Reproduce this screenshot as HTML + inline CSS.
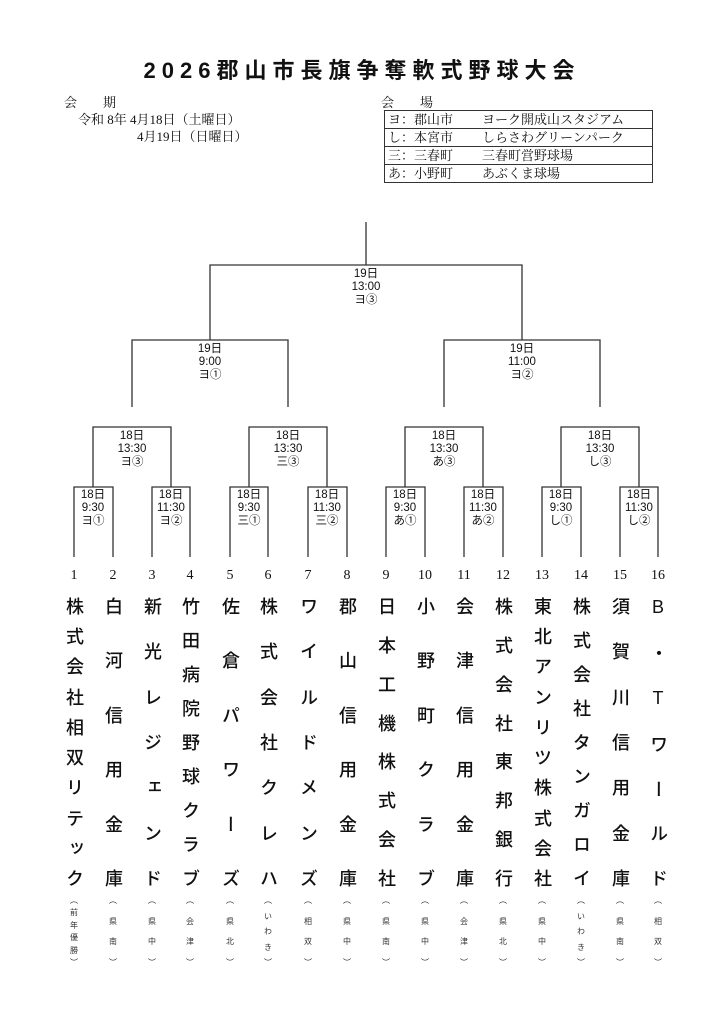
<!DOCTYPE html>
<html><head><meta charset="utf-8"><style>
body{margin:0;background:#fff;}
#p{position:relative;width:724px;height:1024px;overflow:hidden;background:#fff;color:#111;font-family:"Liberation Serif","Noto Serif CJK SC",serif;}
.a{position:absolute;}
.t{left:0;width:724px;top:53px;text-align:center;font-size:22px;font-weight:bold;letter-spacing:6px;font-family:"Liberation Sans","Noto Sans CJK JP",sans-serif;}
.s{font-size:13px;line-height:17px;}
table{border-collapse:collapse;font-size:13px;}
td{border-top:1px solid #333;border-bottom:1px solid #333;height:17px;padding:0 3px;line-height:16px;}
td.l{border-left:1px solid #333;}
td.rr{border-right:1px solid #333;}
.lb{font-family:"Liberation Sans","Noto Sans CJK JP",sans-serif;font-size:11.5px;line-height:13px;text-align:center;width:60px;margin-left:-30px;}
.n{font-size:14px;width:30px;margin-left:-15px;text-align:center;top:568px;}
.c{display:flex;flex-direction:column;justify-content:space-between;align-items:center;width:30px;margin-left:-15px;top:597px;height:290px;font-family:"Liberation Sans","Noto Sans CJK JP",sans-serif;font-size:18px;line-height:22px;font-weight:500;}
.c span,.r span{writing-mode:vertical-rl;text-orientation:upright;}
.r{display:flex;flex-direction:column;justify-content:space-between;align-items:center;width:20px;margin-left:-10px;top:896px;height:70px;font-family:"Liberation Sans","Noto Sans CJK JP",sans-serif;font-size:8px;line-height:9px;color:#333;}
</style></head><body><div id="p">
<div class="a t">2026郡山市長旗争奪軟式野球大会</div>
<div class="a s" style="left:64px;top:94px;">会&emsp;&emsp;期</div>
<div class="a s" style="left:78px;top:111px;">令和 8年 4月18日（土曜日）</div>
<div class="a s" style="left:137px;top:128px;">4月19日（日曜日）</div>
<div class="a s" style="left:381px;top:94px;">会&emsp;&emsp;場</div>
<table class="a" style="left:384px;top:110px;width:269px;">
<tr><td class="l" style="width:88px">ヨ：郡山市</td><td class="rr">ヨーク開成山スタジアム</td></tr>
<tr><td class="l">し：本宮市</td><td class="rr">しらさわグリーンパーク</td></tr>
<tr><td class="l">三：三春町</td><td class="rr">三春町営野球場</td></tr>
<tr><td class="l">あ：小野町</td><td class="rr">あぶくま球場</td></tr>
</table>
<svg class="a" style="left:0;top:0" width="724" height="1024" fill="none" stroke="#333" stroke-width="1.3">
<path d="M366 222V265M210 340V265H522V340"/>
<path d="M132 407V340H288V407M444 407V340H600V407"/>
<path d="M93 487V427H171V487M249 487V427H327V487M405 487V427H483V487M561 487V427H639V487"/>
<path d="M74 557V487H113V557M152 557V487H190V557M230 557V487H268V557M308 557V487H347V557M386 557V487H425V557M464 557V487H503V557M542 557V487H581V557M620 557V487H658V557"/>
</svg>
<div class="a lb" style="left:366px;top:268px;">19日<br>13:00<br>ヨ③</div>
<div class="a lb" style="left:210px;top:343px;">19日<br>9:00<br>ヨ①</div>
<div class="a lb" style="left:522px;top:343px;">19日<br>11:00<br>ヨ②</div>
<div class="a lb" style="left:132px;top:430px;">18日<br>13:30<br>ヨ③</div>
<div class="a lb" style="left:288px;top:430px;">18日<br>13:30<br>三③</div>
<div class="a lb" style="left:444px;top:430px;">18日<br>13:30<br>あ③</div>
<div class="a lb" style="left:600px;top:430px;">18日<br>13:30<br>し③</div>
<div class="a lb" style="left:93px;top:489px;">18日<br>9:30<br>ヨ①</div>
<div class="a lb" style="left:171px;top:489px;">18日<br>11:30<br>ヨ②</div>
<div class="a lb" style="left:249px;top:489px;">18日<br>9:30<br>三①</div>
<div class="a lb" style="left:327px;top:489px;">18日<br>11:30<br>三②</div>
<div class="a lb" style="left:405px;top:489px;">18日<br>9:30<br>あ①</div>
<div class="a lb" style="left:483px;top:489px;">18日<br>11:30<br>あ②</div>
<div class="a lb" style="left:561px;top:489px;">18日<br>9:30<br>し①</div>
<div class="a lb" style="left:639px;top:489px;">18日<br>11:30<br>し②</div>

<div class="a n" style="left:74px">1</div><div class="a n" style="left:113px">2</div><div class="a n" style="left:152px">3</div><div class="a n" style="left:190px">4</div><div class="a n" style="left:230px">5</div><div class="a n" style="left:268px">6</div><div class="a n" style="left:308px">7</div><div class="a n" style="left:347px">8</div><div class="a n" style="left:386px">9</div><div class="a n" style="left:425px">10</div><div class="a n" style="left:464px">11</div><div class="a n" style="left:503px">12</div><div class="a n" style="left:542px">13</div><div class="a n" style="left:581px">14</div><div class="a n" style="left:620px">15</div><div class="a n" style="left:658px">16</div>

<div class="a c" style="left:74px"><span>株</span><span>式</span><span>会</span><span>社</span><span>相</span><span>双</span><span>リ</span><span>テ</span><span>ッ</span><span>ク</span></div>
<div class="a c" style="left:113px"><span>白</span><span>河</span><span>信</span><span>用</span><span>金</span><span>庫</span></div>
<div class="a c" style="left:152px"><span>新</span><span>光</span><span>レ</span><span>ジ</span><span>ェ</span><span>ン</span><span>ド</span></div>
<div class="a c" style="left:190px"><span>竹</span><span>田</span><span>病</span><span>院</span><span>野</span><span>球</span><span>ク</span><span>ラ</span><span>ブ</span></div>
<div class="a c" style="left:230px"><span>佐</span><span>倉</span><span>パ</span><span>ワ</span><span>ー</span><span>ズ</span></div>
<div class="a c" style="left:268px"><span>株</span><span>式</span><span>会</span><span>社</span><span>ク</span><span>レ</span><span>ハ</span></div>
<div class="a c" style="left:308px"><span>ワ</span><span>イ</span><span>ル</span><span>ド</span><span>メ</span><span>ン</span><span>ズ</span></div>
<div class="a c" style="left:347px"><span>郡</span><span>山</span><span>信</span><span>用</span><span>金</span><span>庫</span></div>
<div class="a c" style="left:386px"><span>日</span><span>本</span><span>工</span><span>機</span><span>株</span><span>式</span><span>会</span><span>社</span></div>
<div class="a c" style="left:425px"><span>小</span><span>野</span><span>町</span><span>ク</span><span>ラ</span><span>ブ</span></div>
<div class="a c" style="left:464px"><span>会</span><span>津</span><span>信</span><span>用</span><span>金</span><span>庫</span></div>
<div class="a c" style="left:503px"><span>株</span><span>式</span><span>会</span><span>社</span><span>東</span><span>邦</span><span>銀</span><span>行</span></div>
<div class="a c" style="left:542px"><span>東</span><span>北</span><span>ア</span><span>ン</span><span>リ</span><span>ツ</span><span>株</span><span>式</span><span>会</span><span>社</span></div>
<div class="a c" style="left:581px"><span>株</span><span>式</span><span>会</span><span>社</span><span>タ</span><span>ン</span><span>ガ</span><span>ロ</span><span>イ</span></div>
<div class="a c" style="left:620px"><span>須</span><span>賀</span><span>川</span><span>信</span><span>用</span><span>金</span><span>庫</span></div>
<div class="a c" style="left:658px"><span>B</span><span>・</span><span>T</span><span>ワ</span><span>ー</span><span>ル</span><span>ド</span></div>

<div class="a r" style="left:74px"><span>（</span><span>前</span><span>年</span><span>優</span><span>勝</span><span>）</span></div>
<div class="a r" style="left:113px"><span>（</span><span>県</span><span>南</span><span>）</span></div>
<div class="a r" style="left:152px"><span>（</span><span>県</span><span>中</span><span>）</span></div>
<div class="a r" style="left:190px"><span>（</span><span>会</span><span>津</span><span>）</span></div>
<div class="a r" style="left:230px"><span>（</span><span>県</span><span>北</span><span>）</span></div>
<div class="a r" style="left:268px"><span>（</span><span>い</span><span>わ</span><span>き</span><span>）</span></div>
<div class="a r" style="left:308px"><span>（</span><span>相</span><span>双</span><span>）</span></div>
<div class="a r" style="left:347px"><span>（</span><span>県</span><span>中</span><span>）</span></div>
<div class="a r" style="left:386px"><span>（</span><span>県</span><span>南</span><span>）</span></div>
<div class="a r" style="left:425px"><span>（</span><span>県</span><span>中</span><span>）</span></div>
<div class="a r" style="left:464px"><span>（</span><span>会</span><span>津</span><span>）</span></div>
<div class="a r" style="left:503px"><span>（</span><span>県</span><span>北</span><span>）</span></div>
<div class="a r" style="left:542px"><span>（</span><span>県</span><span>中</span><span>）</span></div>
<div class="a r" style="left:581px"><span>（</span><span>い</span><span>わ</span><span>き</span><span>）</span></div>
<div class="a r" style="left:620px"><span>（</span><span>県</span><span>南</span><span>）</span></div>
<div class="a r" style="left:658px"><span>（</span><span>相</span><span>双</span><span>）</span></div>
</div></body></html>
